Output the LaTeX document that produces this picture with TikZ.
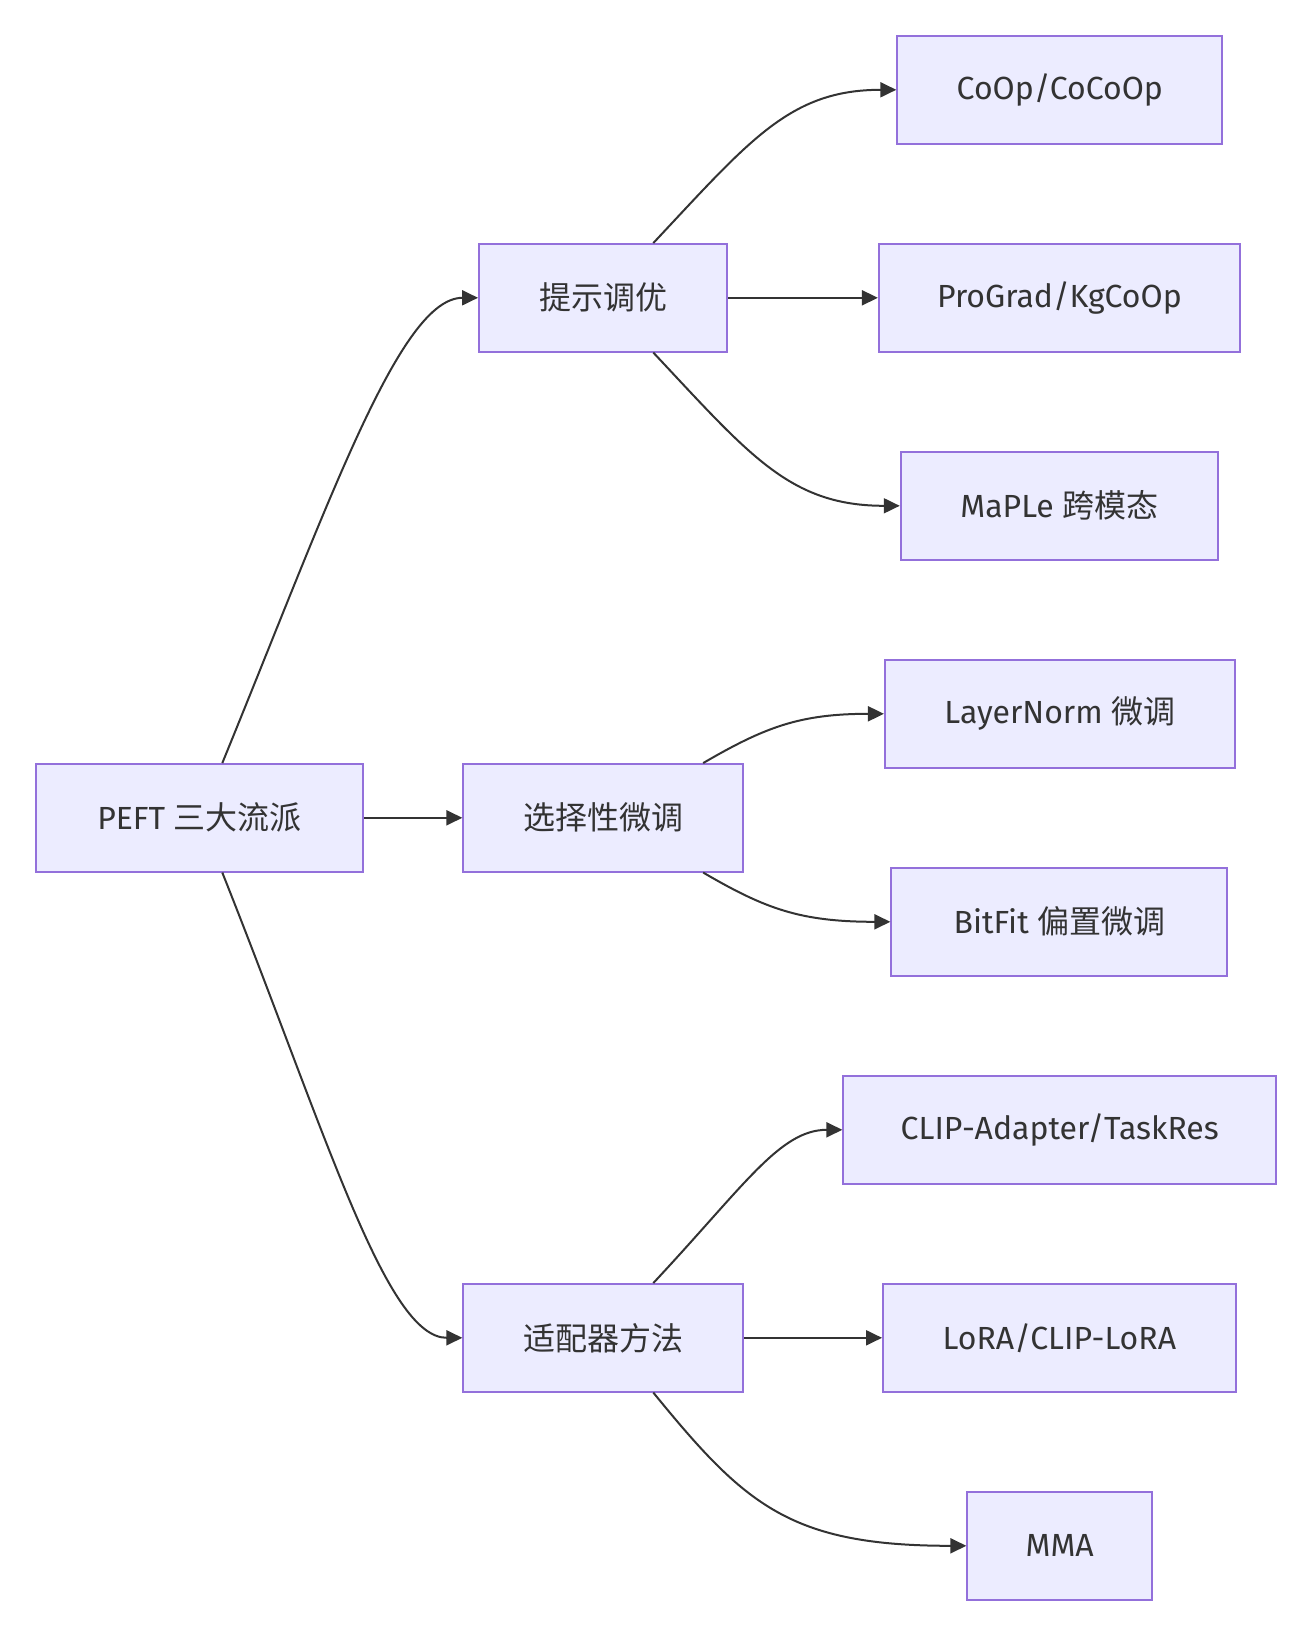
\documentclass[tikz,border=0pt]{standalone}
\usepackage{fontspec}
\setmainfont{Fira Sans}
\newfontfamily\cjk{Noto Sans CJK SC}
\usetikzlibrary{arrows.meta}
\definecolor{boxfill}{HTML}{ECECFF}
\definecolor{boxline}{HTML}{9370DB}
\definecolor{ink}{HTML}{333333}
\tikzset{
  box/.style={draw=boxline, fill=boxfill, line width=2pt, rectangle,
    minimum height=107.5pt, inner sep=0pt, text=ink,
    font=\fontsize{32}{38}\selectfont},
  link/.style={draw=ink, line width=2pt,
    -{Triangle[length=16pt,width=15pt]}}
}
\begin{document}
\begin{tikzpicture}[x=1pt,y=-1pt]
\useasboundingbox (0,0) rectangle (1314,1636);
% level 0
\node[box, minimum width=327.6pt] (peft) at (199.5,817.8) {PEFT {\cjk 三大流派}};
% level 1
\node[box, minimum width=248.3pt] (tune) at (603.2,297.8) {\cjk 提示调优};
\node[box, minimum width=279.7pt] (sel) at (603.2,817.8) {\cjk 选择性微调};
\node[box, minimum width=279.7pt] (adapt) at (603.2,1337.8) {\cjk 适配器方法};
% level 2
\node[box, minimum width=325pt] (coop) at (1059.8,89.8) {CoOp/CoCoOp};
\node[box, minimum width=361pt] (prograd) at (1059.4,297.8) {ProGrad/KgCoOp};
\node[box, minimum width=317.3pt] (maple) at (1059.4,505.8) {MaPLe {\cjk 跨模态}};
\node[box, minimum width=349.7pt] (ln) at (1059.8,713.8) {LayerNorm {\cjk 微调}};
\node[box, minimum width=336.1pt] (bitfit) at (1059.4,921.8) {BitFit {\cjk 偏置微调}};
\node[box, minimum width=432.7pt] (clip) at (1059.7,1129.8) {CLIP-Adapter/TaskRes};
\node[box, minimum width=352.7pt] (lora) at (1059.4,1337.8) {LoRA/CLIP-LoRA};
\node[box, minimum width=184.7pt] (mma) at (1059.7,1545.8) {MMA};
% edges from root
\draw[link] ([xshift=22.8pt]peft.north)
  .. controls (330,500) and (400,297.8) .. (tune.west);
\draw[link] (peft.east) -- (sel.west);
\draw[link] ([xshift=22.8pt]peft.south)
  .. controls (327,1135.6) and (386,1337.8) .. (adapt.west);
% prompt tuning
\draw[link] ([xshift=50.1pt]tune.north)
  .. controls (750,140) and (790,89.8) .. (coop.west);
\draw[link] (tune.east) -- (prograd.west);
\draw[link] ([xshift=50.1pt]tune.south)
  .. controls (750,455.6) and (790,505.8) .. (maple.west);
% selective
\draw[link] ([xshift=100pt]sel.north)
  .. controls (765,727) and (800,713.8) .. (ln.west);
\draw[link] ([xshift=100pt]sel.south)
  .. controls (765,908.6) and (800,921.8) .. (bitfit.west);
% adapters
\draw[link] ([xshift=50.1pt]adapt.north)
  .. controls (745,1185) and (780,1129.8) .. (clip.west);
\draw[link] (adapt.east) -- (lora.west);
\draw[link] ([xshift=50.1pt]adapt.south)
  .. controls (745,1505) and (790,1545.8) .. (mma.west);
\end{tikzpicture}
\end{document}
